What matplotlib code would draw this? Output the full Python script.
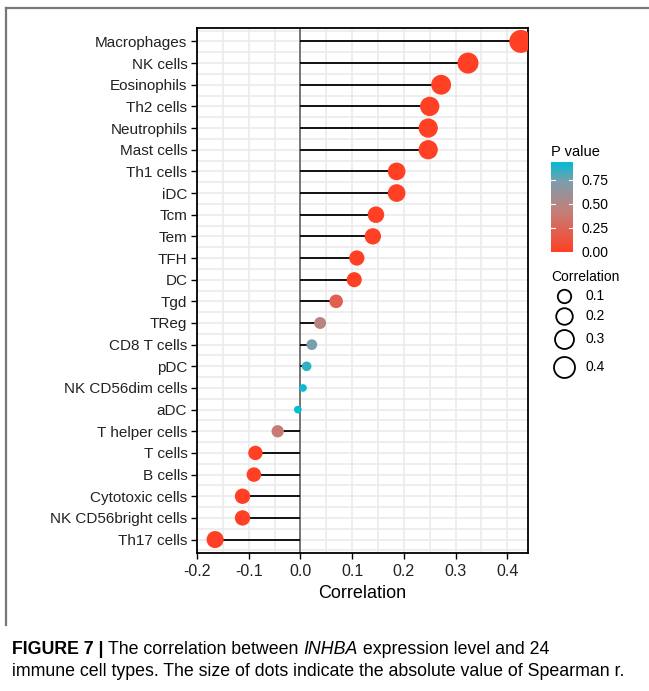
import numpy as np
import matplotlib
matplotlib.use("Agg")
import matplotlib.pyplot as plt
from matplotlib.colors import LinearSegmentedColormap, Normalize
from matplotlib.lines import Line2D

plt.rcParams["font.family"] = ["Liberation Sans", "DejaVu Sans"]

# ---- data (top row first) ----
cells = ["Macrophages", "NK cells", "Eosinophils", "Th2 cells", "Neutrophils",
         "Mast cells", "Th1 cells", "iDC", "Tcm", "Tem", "TFH", "DC", "Tgd",
         "TReg", "CD8 T cells", "pDC", "NK CD56dim cells", "aDC",
         "T helper cells", "T cells", "B cells", "Cytotoxic cells",
         "NK CD56bright cells", "Th17 cells"]
corr = [0.426, 0.324, 0.272, 0.250, 0.247, 0.247, 0.186, 0.186, 0.146, 0.140,
        0.109, 0.104, 0.069, 0.038, 0.022, 0.012, 0.005, -0.005, -0.044,
        -0.087, -0.090, -0.112, -0.112, -0.165]
pval = [0.0, 0.0, 0.0, 0.0, 0.0, 0.0, 0.0, 0.0, 0.0, 0.0, 0.0, 0.0, 0.22,
        0.47, 0.74, 0.87, 0.92, 0.94, 0.40, 0.0, 0.0, 0.0, 0.0, 0.0]
size_breaks = [0.1, 0.2, 0.3, 0.4]
p_ticks = [0.0, 0.25, 0.50, 0.75]

DPI = 100
W, H = 649, 691
fig = plt.figure(figsize=(W / DPI, H / DPI), dpi=DPI)

cmap = LinearSegmentedColormap.from_list(
    "pv", [(0.0, "#FF4024"), (0.45, "#C57F79"), (0.78, "#7E9EAB"), (1.0, "#00BCD5")])
norm = Normalize(0, 0.94)

absr = np.abs(corr)
rmin, rmax = absr.min(), absr.max()


def diam_px(v):
    # ggplot-like area scale: size 1..6, plus stroke
    t = np.clip((np.asarray(v) - rmin) / (rmax - rmin), 0, 1)
    size = 1 + 5 * np.sqrt(t)
    return 4.6 + 3.06 * size


def s_pt(v):
    return (diam_px(v) * 72 / DPI) ** 2


# axes placement in pixels
L, R, T, B = 197, 528, 28, 553
ax = fig.add_axes([L / W, 1 - B / H, (R - L) / W, (B - T) / H])

n = len(cells)
ypos = np.arange(n)[::-1]

ax.set_xlim(-0.2, 0.44)
ax.set_ylim(-0.62, n - 1 + 0.62)
ax.set_xticks(np.arange(-0.2, 0.41, 0.1))
ax.set_xticklabels(["-0.2", "-0.1", "0.0", "0.1", "0.2", "0.3", "0.4"])
ax.set_xticks(np.arange(-0.15, 0.44, 0.1), minor=True)
ax.set_yticks(ypos)
ax.set_yticklabels(cells)
ax.set_yticks(np.arange(-0.5, n), minor=True)
ax.grid(True, which="both", color="#EBEBEB", lw=1.2, zorder=0)
ax.set_axisbelow(True)
ax.tick_params(which="minor", length=0)
ax.tick_params(which="major", length=4, width=1, color="black", labelsize=11,
               labelcolor="#222222", pad=3)
ax.tick_params(axis="x", labelsize=11.5, pad=4)
for sp in ax.spines.values():
    sp.set_linewidth(1.3)
    sp.set_color("black")

ax.axvline(0, color="#555555", lw=1.1, zorder=1)
ax.hlines(ypos, 0, corr, color="black", lw=1.3, zorder=2)
ax.scatter(corr, ypos, s=s_pt(absr), c=pval, cmap=cmap, norm=norm,
           edgecolors="none", zorder=3)
ax.set_xlabel("Correlation", fontsize=13, labelpad=4)

# ---- P value colourbar ----
cb_l, cb_r, cb_t, cb_b = 551, 573, 161.7, 251.7
cax = fig.add_axes([cb_l / W, 1 - cb_b / H, (cb_r - cb_l) / W, (cb_b - cb_t) / H])
grad = np.linspace(0, 0.94, 256).reshape(-1, 1)
cax.imshow(grad, aspect="auto", origin="lower", cmap=cmap, norm=norm,
           extent=[0, 1, 0, 0.94])
cax.set_xlim(0, 1)
cax.set_ylim(0, 0.94)
for sp in cax.spines.values():
    sp.set_visible(False)
cax.set_xticks([])
cax.yaxis.tick_right()
cax.set_yticks(p_ticks)
cax.set_yticklabels([f"{v:.2f}" for v in p_ticks])
cax.tick_params(axis="y", length=0, labelsize=10, pad=6)
for v in p_ticks[1:]:
    cax.plot([0, 0.18], [v, v], color="white", lw=0.8)
    cax.plot([0.82, 1], [v, v], color="white", lw=0.8)
fig.text(cb_l / W, 1 - 152 / H, "P value", fontsize=10.5, va="center", ha="left")

# ---- Correlation size legend ----
fig.text(551 / W, 1 - 277 / H, "Correlation", fontsize=10, va="center", ha="left")
leg_y = [295.7, 315.5, 339.3, 366.7]
for v, yy in zip(size_breaks, leg_y):
    d = diam_px(v) - 1.5
    fig.add_artist(Line2D([564 / W], [1 - yy / H], marker="o", markersize=d * 72 / DPI,
                          markerfacecolor="none", markeredgecolor="black",
                          markeredgewidth=1.3, linestyle="none",
                          transform=fig.transFigure))
    fig.text(586 / W, 1 - yy / H, f"{v:.1f}", fontsize=10, va="center", ha="left")

# ---- frame lines ----
fig.add_artist(Line2D([6 / W, 1], [1 - 8 / H, 1 - 8 / H], color="#777777", lw=1.6,
                      transform=fig.transFigure))
fig.add_artist(Line2D([6 / W, 6 / W], [1 - 8 / H, 1 - 625 / H], color="#777777",
                      lw=1.6, transform=fig.transFigure))

# ---- caption ----
cap_fs = 12.8
fam = ["Liberation Sans", "DejaVu Sans"]
y1 = 1 - 650 / H
t1 = fig.text(12 / W, y1, "FIGURE 7 | ", fontsize=cap_fs, fontweight="bold",
              family=fam, va="center", ha="left")
fig.canvas.draw()
r = fig.canvas.get_renderer()
bb = t1.get_window_extent(r)
t2 = fig.text(bb.x1 / W, y1, "The correlation between ", fontsize=cap_fs, family=fam,
              va="center", ha="left")
bb = t2.get_window_extent(r)
t3 = fig.text(bb.x1 / W, y1, "INHBA", fontsize=cap_fs, family=fam, style="italic",
              va="center", ha="left")
bb = t3.get_window_extent(r)
fig.text(bb.x1 / W, y1, " expression level and 24", fontsize=cap_fs, family=fam,
         va="center", ha="left")
fig.text(12 / W, 1 - 672 / H,
         "immune cell types. The size of dots indicate the absolute value of Spearman r.",
         fontsize=cap_fs, family=fam, va="center", ha="left")

fig.savefig("out.png", dpi=DPI)
